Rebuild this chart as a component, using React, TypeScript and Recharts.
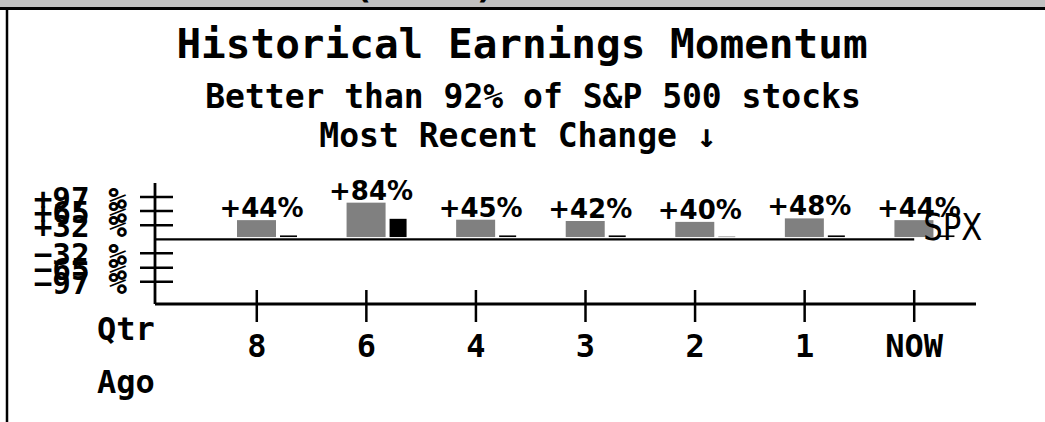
import { Bar, BarChart, LabelList, ReferenceLine, XAxis, YAxis } from "recharts";

const quarters = ["8", "6", "4", "3", "2", "1", "NOW"];
const stockChange = [44, 84, 45, 42, 40, 48, 44];
const spxChange = [9, 47, 9, 9, 6, 9, 9];
const yTicks = [-97, -65, -32, 32, 65, 97];

const data = quarters.map((q, i) => ({
	q,
	stock: stockChange[i],
	spx: spxChange[i],
}));

const MONO = "'DejaVu Sans Mono', monospace";
const SANS = "'DejaVu Sans', sans-serif";
const BAR_GAP = 2.3; // white gap between bars and the zero line
const PLOT_LEFT = 155;

function GapBar(props: any) {
	const { x, y, width, height, fill } = props;
	const h = height - BAR_GAP;
	if (!(h > 0)) return null;
	return <rect x={x} y={y} width={width} height={h} fill={fill} />;
}

function YTick({ x, y, payload }: any) {
	const v = payload.value;
	const s = v > 0 ? `+${v} %` : `\u2212${-v} %`;
	return (
		<g>
			<line x1={x - 15} x2={x + 18} y1={y} y2={y} stroke="#000" strokeWidth={2.5} />
			<text x={x - 28} y={y + 12} textAnchor="end" fontFamily={MONO} fontWeight="bold" fontSize={31} fill="#000">
				{s}
			</text>
		</g>
	);
}

function XTick({ x, y, payload }: any) {
	return (
		<g>
			<line x1={x} x2={x} y1={y - 14} y2={y + 18} stroke="#000" strokeWidth={2.5} />
			<text x={x} y={y + 53} textAnchor="middle" fontFamily={MONO} fontWeight="bold" fontSize={32} fill="#000">
				{payload.value}
			</text>
		</g>
	);
}

function QtrAgo({ viewBox }: any) {
	const { x, y } = viewBox;
	return (
		<g fontFamily={MONO} fontWeight="bold" fontSize={32} fill="#000">
			<text x={x - 58} y={y + 36}>Qtr</text>
			<text x={x - 58} y={y + 89}>Ago</text>
		</g>
	);
}

function StockLabel({ x, y, width, value }: any) {
	return (
		<text x={x + width / 2 + 5} y={y - 3} textAnchor="middle" fontFamily={SANS} fontWeight="bold" fontSize={26} fill="#000">
			{`+${value}%`}
		</text>
	);
}

function SpxLabel({ viewBox }: any) {
	return (
		<text
			x={viewBox.x + viewBox.width + 9}
			y={viewBox.y + 1}
			fontFamily={SANS}
			fontSize={37}
			textLength={59}
			lengthAdjust="spacingAndGlyphs"
			fill="#000"
		>
			SPX
		</text>
	);
}

export default function App() {
	return (
		<div style={{ position: "absolute", left: 0, top: 0, width: 1045, height: 422, background: "#fff" }}>
			<BarChart
				width={1045}
				height={422}
				data={data}
				barGap={4}
				margin={{ top: 183, right: 69, bottom: 0, left: 0 }}
			>
				<XAxis
					dataKey="q"
					interval={0}
					height={118}
					padding={{ left: 47, right: 7 }}
					tickLine={false}
					tickSize={0}
					tickMargin={0}
					axisLine={{ stroke: "#000", strokeWidth: 2.8 }}
					tick={<XTick />}
					label={<QtrAgo />}
				/>
				<YAxis
					type="number"
					domain={[-148, 129]}
					ticks={yTicks}
					interval={0}
					width={155}
					tickLine={false}
					tickSize={0}
					tickMargin={0}
					axisLine={{ stroke: "#000", strokeWidth: 2.8 }}
					tick={<YTick />}
				/>
				<Bar dataKey="pad" barSize={17} fill="none" isAnimationActive={false} />
				<Bar dataKey="stock" barSize={39} fill="#808080" shape={<GapBar />} isAnimationActive={false}>
					<LabelList dataKey="stock" content={<StockLabel />} />
				</Bar>
				<Bar dataKey="spx" barSize={17} fill="#000" shape={<GapBar />} isAnimationActive={false} />
				<ReferenceLine
					segment={[
						{ x: "8", y: 0 },
						{ x: "NOW", y: 0 },
					]}
					stroke="#000"
					strokeWidth={2.4}
					shape={(p: any) => (
						<line x1={PLOT_LEFT} y1={p.y1} x2={p.x2} y2={p.y2} stroke="#000" strokeWidth={2.4} />
					)}
					label={<SpxLabel />}
				/>
			</BarChart>
			<svg
				width={1045}
				height={422}
				style={{ position: "absolute", left: 0, top: 0, pointerEvents: "none", overflow: "hidden" }}
			>
				<rect x={0} y={0} width={1045} height={7} fill="#c0c0c0" />
				<text x={350} y={-3} fontFamily={MONO} fontWeight="bold" fontSize={41} fill="#000" xmlSpace="preserve">
					{"(    )"}
				</text>
				<line x1={0} x2={1045} y1={8.5} y2={8.5} stroke="#000" strokeWidth={3} />
				<line x1={7} x2={7} y1={7} y2={422} stroke="#000" strokeWidth={2.5} />
				<g fontFamily={MONO} fontWeight="bold" fill="#000" textAnchor="middle">
					<text x={522} y={58} fontSize={41}>
						Historical Earnings Momentum
					</text>
					<text x={533} y={108} fontSize={33}>
						Better than 92% of S&amp;P 500 stocks
					</text>
					<text x={518} y={147} fontSize={33}>
						Most Recent Change ↓
					</text>
				</g>
			</svg>
		</div>
	);
}
